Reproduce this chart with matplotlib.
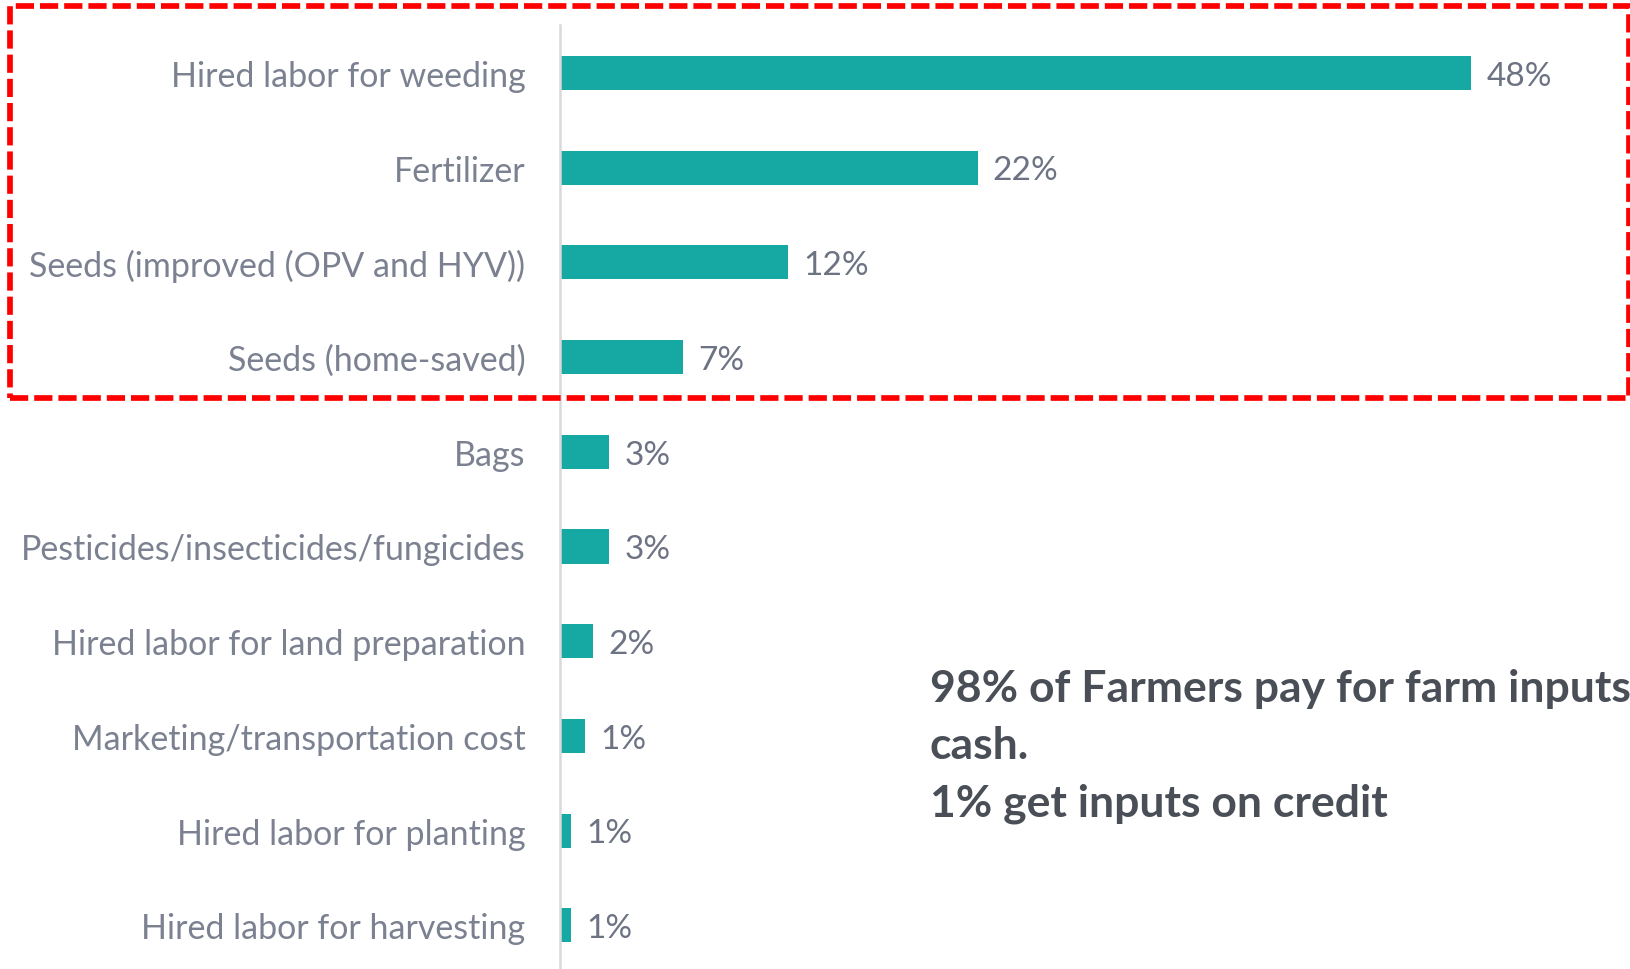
import matplotlib.pyplot as plt
from matplotlib.patches import Rectangle


# ==========================================
# DATA
# ==========================================

categories = [
    "Hired labor for weeding",
    "Fertilizer",
    "Seeds (improved (OPV and HYV))",
    "Seeds (home-saved)",
    "Bags",
    "Pesticides/insecticides/fungicides",
    "Hired labor for land preparation",
    "Marketing/transportation cost",
    "Hired labor for planting",
    "Hired labor for harvesting",
]

# bar lengths (percent)
shares = [48.0, 22.0, 12.0, 6.5, 2.6, 2.6, 1.75, 1.3, 0.6, 0.6]

# labels printed next to the bars
share_labels = ["48%", "22%", "12%", "7%", "3%", "3%", "2%", "1%", "1%", "1%"]

note_lines = [
    "98% of Farmers pay for farm inputs",
    "cash.",
    "1% get inputs on credit",
]


# ==========================================
# STYLE
# ==========================================

W, H = 1631, 970

bar_color = "#16a9a3"
label_color = "#7b8190"
value_color = "#6d7383"
note_color = "#4a4f57"

plt.rcParams["font.family"] = ["Lato", "DejaVu Sans"]


# ==========================================
# FIGURE
# ==========================================

fig = plt.figure(figsize=(W / 100, H / 100), dpi=100)

ax = fig.add_axes([
    560 / W,
    0,
    (1600 - 560) / W,
    (H - 26) / H
])

y = list(range(len(categories)))

ax.barh(
    y,
    shares,
    height=0.36,
    color=bar_color
)

ax.set_xlim(0, 1040 / 18.98)
ax.set_ylim(9.46, -0.505)

ax.set_yticks(y)
ax.set_yticklabels(categories, fontsize=24.5, color=label_color)
ax.tick_params(axis="y", length=0, pad=25)
ax.set_xticks([])

for side in ["top", "right", "bottom"]:
    ax.spines[side].set_visible(False)

ax.spines["left"].set_color("#d9d9d9")
ax.spines["left"].set_linewidth(1.8)


# VALUE LABELS

for i, v in enumerate(shares):

    ax.annotate(
        share_labels[i],
        xy=(v, i),
        xytext=(11, -2),
        textcoords="offset points",
        va="center",
        ha="left",
        fontsize=24,
        color=value_color
    )


# NOTE TEXT

for j, line in enumerate(note_lines):

    fig.text(
        930 / W,
        1 - (702 + j * 57.5) / H,
        line,
        fontsize=32,
        fontweight="bold",
        color=note_color,
        ha="left",
        va="baseline"
    )


# RED DASHED HIGHLIGHT BOX

box = Rectangle(
    (10 / W, 1 - 399 / H),
    (1629 - 10) / W,
    (399 - 7) / H,
    transform=fig.transFigure,
    fill=False,
    edgecolor="#ff0000",
    linewidth=4.1,
    linestyle=(0, (3.2, 1.05))
)

fig.patches.append(box)


fig.savefig("out.png", dpi=100)
